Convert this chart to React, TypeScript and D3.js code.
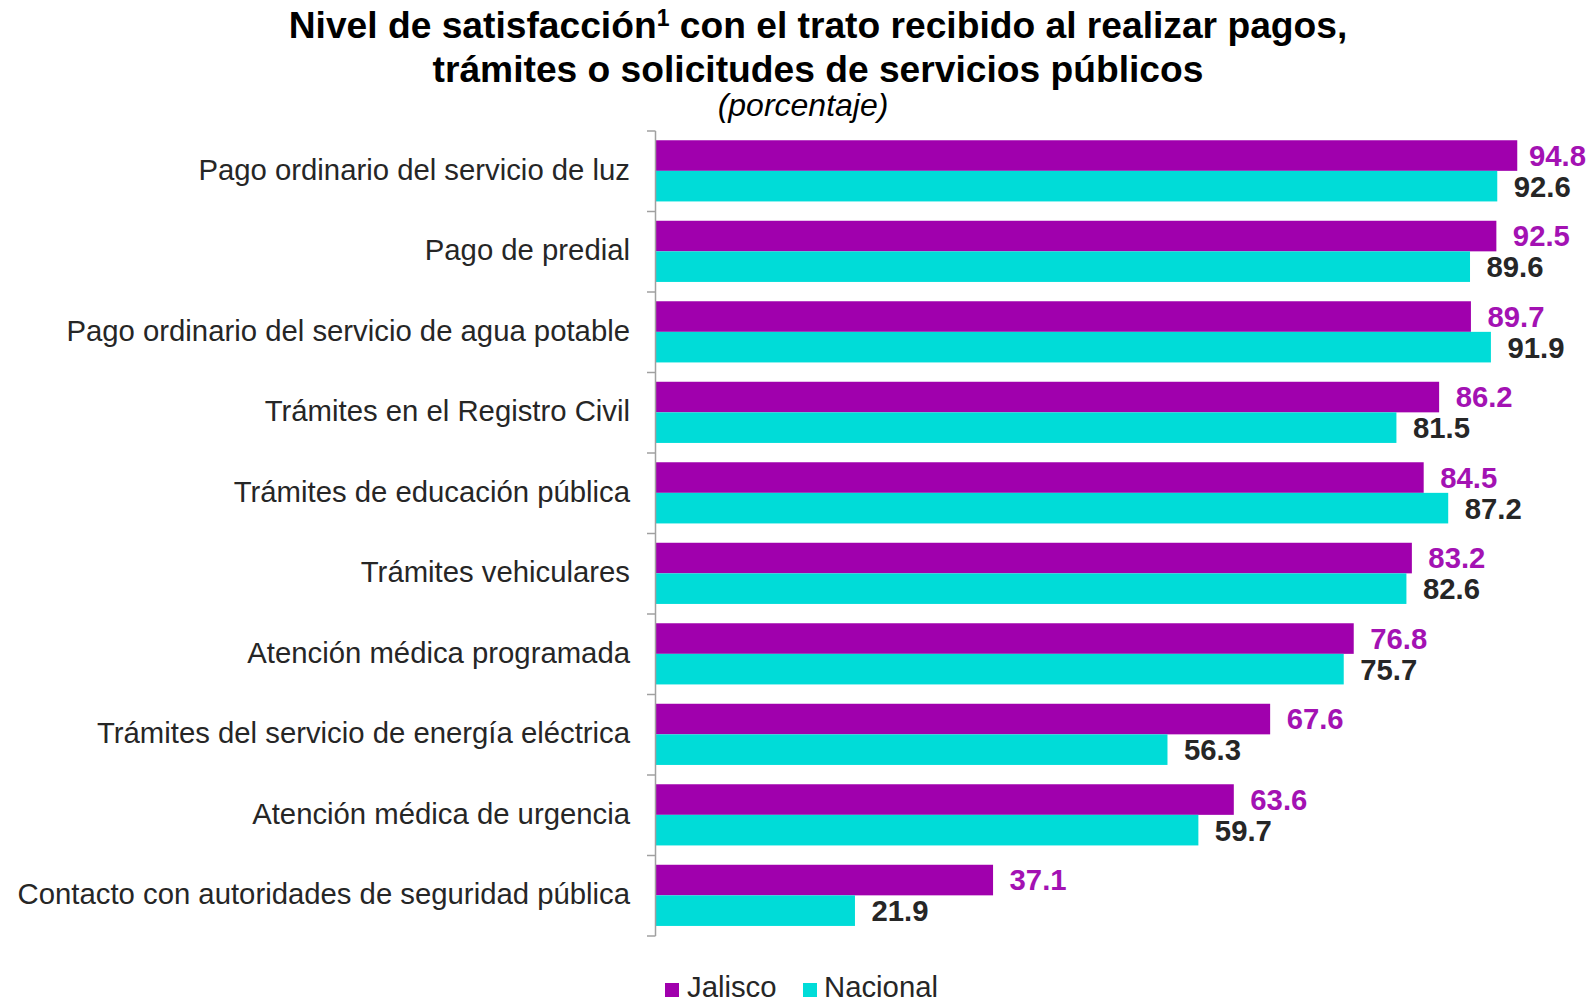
import React from "react";
import * as d3 from "d3";

const categories = [
  "Pago ordinario del servicio de luz",
  "Pago de predial",
  "Pago ordinario del servicio de agua potable",
  "Trámites en el Registro Civil",
  "Trámites de educación pública",
  "Trámites vehiculares",
  "Atención médica programada",
  "Trámites del servicio de energía eléctrica",
  "Atención médica de urgencia",
  "Contacto con autoridades de seguridad pública",
];
const jalisco = [94.8, 92.5, 89.7, 86.2, 84.5, 83.2, 76.8, 67.6, 63.6, 37.1];
const nacional = [92.6, 89.6, 91.9, 81.5, 87.2, 82.6, 75.7, 56.3, 59.7, 21.9];
const seriesNames = ["Jalisco", "Nacional"];
const seriesColors = ["#A000AD", "#00DCD8"];
const labelColors = ["#A312B3", "#262626"];

const W = 1590;
const H = 1002;
const FONT = "'Liberation Sans', Arial, sans-serif";

export default function App() {
  const x = d3.scaleLinear().domain([0, 100]).range([656, 656 + 908.5]);
  const y0 = d3.scaleBand<string>().domain(categories).range([131, 936]);
  const bw = y0.bandwidth();
  const y1 = d3
    .scaleBand<string>()
    .domain(seriesNames)
    .range([bw * 0.115, bw * 0.875]);
  const values = [jalisco, nacional];
  const tickYs = categories.map((c) => y0(c) as number).concat([936]);

  return (
    <div style={{ position: "fixed", left: 0, top: 0, width: W, height: H, overflow: "hidden" }}>
      <svg width={W} height={H} style={{ display: "block", fontFamily: FONT }}>
        <rect width={W} height={H} fill="#fff" />
        <text x={818} y={38} textAnchor="middle" fontSize={37.2} fontWeight="bold" fill="#000">
          Nivel de satisfacción
          <tspan fontSize={23} dy={-12}>1</tspan>
          <tspan dy={12}> con el trato recibido al realizar pagos,</tspan>
        </text>
        <text x={818} y={82} textAnchor="middle" fontSize={37.2} fontWeight="bold" fill="#000">
          trámites o solicitudes de servicios públicos
        </text>
        <text x={803} y={116} textAnchor="middle" fontSize={32} fontStyle="italic" fill="#000">
          (porcentaje)
        </text>

        {categories.map((c, i) => (
          <g key={c} transform={`translate(0,${y0(c)})`}>
            {values.map((vals, s) => {
              const yy = y1(seriesNames[s]) as number;
              const h = y1.bandwidth();
              return (
                <g key={s}>
                  <rect x={x(0)} y={yy} width={x(vals[i]) - x(0)} height={h} fill={seriesColors[s]} />
                  <text
                    x={Math.min(x(vals[i]) + 16.5, 1529)}
                    y={yy + h / 2 + 10.4}
                    fontSize={29.3}
                    fontWeight="bold"
                    fill={labelColors[s]}
                  >
                    {vals[i].toFixed(1)}
                  </text>
                </g>
              );
            })}
            <text x={630} y={bw / 2 + 8.5} textAnchor="end" fontSize={29.3} fill="#262626">
              {c}
            </text>
          </g>
        ))}

        <line x1={655.5} x2={655.5} y1={131} y2={936} stroke="#A0A0A0" strokeWidth={1.5} />
        {tickYs.map((t, i) => (
          <line key={i} x1={647} x2={655.5} y1={t} y2={t} stroke="#A0A0A0" strokeWidth={1.5} />
        ))}

        <g>
          <rect x={665} y={983} width={14} height={14} fill={seriesColors[0]} />
          <text x={687} y={997} fontSize={29.3} fill="#262626">Jalisco</text>
          <rect x={803} y={983} width={14} height={14} fill={seriesColors[1]} />
          <text x={824} y={997} fontSize={29.3} fill="#262626">Nacional</text>
        </g>
      </svg>
    </div>
  );
}
